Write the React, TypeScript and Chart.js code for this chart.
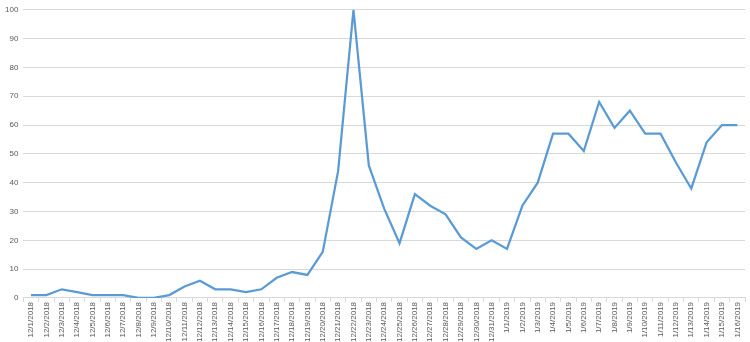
import React, { useEffect, useRef } from "react";
import { Chart, registerables } from "chart.js";

Chart.register(...registerables);

const categories: string[] = [
  "12/1/2018", "12/2/2018", "12/3/2018", "12/4/2018", "12/5/2018", "12/6/2018", "12/7/2018",
  "12/8/2018", "12/9/2018", "12/10/2018", "12/11/2018", "12/12/2018", "12/13/2018", "12/14/2018",
  "12/15/2018", "12/16/2018", "12/17/2018", "12/18/2018", "12/19/2018", "12/20/2018", "12/21/2018",
  "12/22/2018", "12/23/2018", "12/24/2018", "12/25/2018", "12/26/2018", "12/27/2018", "12/28/2018",
  "12/29/2018", "12/30/2018", "12/31/2018", "1/1/2019", "1/2/2019", "1/3/2019", "1/4/2019",
  "1/5/2019", "1/6/2019", "1/7/2019", "1/8/2019", "1/9/2019", "1/10/2019", "1/11/2019",
  "1/12/2019", "1/13/2019", "1/14/2019", "1/15/2019", "1/16/2019",
];

const values: number[] = [
  1, 1, 3, 2, 1, 1, 1, 0, 0, 1, 4, 6, 3, 3, 2, 3, 7, 9, 8, 16, 44, 100, 46, 31, 19, 36, 32, 29,
  21, 17, 20, 17, 32, 40, 57, 57, 51, 68, 59, 65, 57, 57, 47, 38, 54, 60, 60,
];

const yMin = 0;
const yMax = 100;
const yStep = 10;

export default function App() {
  const ref = useRef<HTMLCanvasElement | null>(null);

  useEffect(() => {
    document.body.style.margin = "0";
    const canvas = ref.current;
    if (!canvas) return;
    const chart = new Chart(canvas, {
      type: "line",
      data: {
        labels: categories,
        datasets: [
          {
            data: values,
            borderColor: "#5B9BD5",
            backgroundColor: "#5B9BD5",
            borderWidth: 2.25,
            pointRadius: 0,
            tension: 0,
            fill: false,
          },
        ],
      },
      options: {
        animation: false,
        responsive: false,
        maintainAspectRatio: false,
        layout: { padding: { top: 0, right: 5, left: 0, bottom: 0 } },
        plugins: { legend: { display: false }, tooltip: { enabled: false } },
        scales: {
          x: {
            offset: true,
            grid: {
              display: true,
              offset: true,
              drawOnChartArea: false,
              drawTicks: true,
              tickLength: 4,
              color: "#d9d9d9",
            },
            border: { display: true, color: "#d9d9d9", width: 1 },
            ticks: {
              autoSkip: false,
              minRotation: 90,
              maxRotation: 90,
              padding: 0,
              color: "#595959",
              font: { size: 8, family: "'Liberation Sans', Arial, sans-serif" },
            },
          },
          y: {
            min: yMin,
            max: yMax,
            grid: { color: "#d9d9d9", drawTicks: false, lineWidth: 1 },
            border: { display: false },
            ticks: {
              stepSize: yStep,
              padding: 5,
              color: "#595959",
              font: { size: 8, family: "'Liberation Sans', Arial, sans-serif" },
            },
          },
        },
      },
    });
    return () => chart.destroy();
  }, []);

  return (
    <div style={{ width: 750, height: 342 }}>
      <canvas ref={ref} width={750} height={342} style={{ display: "block" }} />
    </div>
  );
}
